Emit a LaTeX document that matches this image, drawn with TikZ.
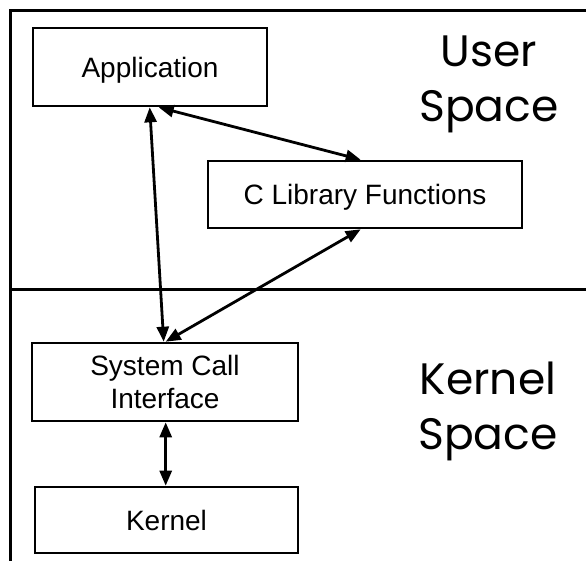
\documentclass[tikz,border=0pt]{standalone}
\usepackage{fontspec}
\setmainfont{Liberation Sans}
\newfontfamily\bigfont{Poppins}
\usetikzlibrary{arrows.meta}
\tikzset{
  box/.style={draw, line width=2.6pt, inner sep=0pt, font=\fontsize{28}{33}\selectfont, align=center},
  nodepth/.style={text depth=0pt},
  arr/.style={line width=2.8pt, {Triangle[length=15pt,width=12pt]}-{Triangle[length=15pt,width=12pt]}},
  frame/.style={line width=3pt},
  biglabel/.style={font=\bigfont\fontsize{44}{55}\selectfont, align=center, inner sep=0pt}
}
\begin{document}
\begin{tikzpicture}[x=1pt,y=-1pt]
\useasboundingbox (0,0) rectangle (586,560);
\coordinate (ftl) at (10,10);
\coordinate (ftr) at (590,10);
\coordinate (fbl) at (10,565);
\coordinate (dl) at (10,289);
\coordinate (dr) at (590,289);
\draw[frame] (fbl) -- (ftl) -- (ftr);
\draw[frame] (dl) -- (dr);
\node[box, nodepth, minimum width=234pt, minimum height=78pt] (app) at (150,67) {Application};
\node[box, nodepth, minimum width=314pt, minimum height=67pt] (clib) at (365,194.5) {C Library Functions};
\node[box, minimum width=266pt, minimum height=78pt] (sci) at (165,382) {System Call\\Interface};
\node[box, minimum width=263pt, minimum height=66pt] (kern) at (166.5,520) {Kernel};
\node[biglabel] (us) at (489,84) {User\\Space};
\node[biglabel] (ks) at (488,411) {Kernel\\Space};
\draw[arr] ([xshift=118pt]app.south west) -- ([xshift=133pt]sci.north west);
\draw[arr] ([xshift=127pt]app.south west) -- ([xshift=154pt]clib.north west);
\draw[arr] ([xshift=154pt]clib.south west) -- ([xshift=135pt]sci.north west);
\draw[arr] ([xshift=135pt]sci.south west) -- ([xshift=132pt]kern.north west);
\end{tikzpicture}
\end{document}
